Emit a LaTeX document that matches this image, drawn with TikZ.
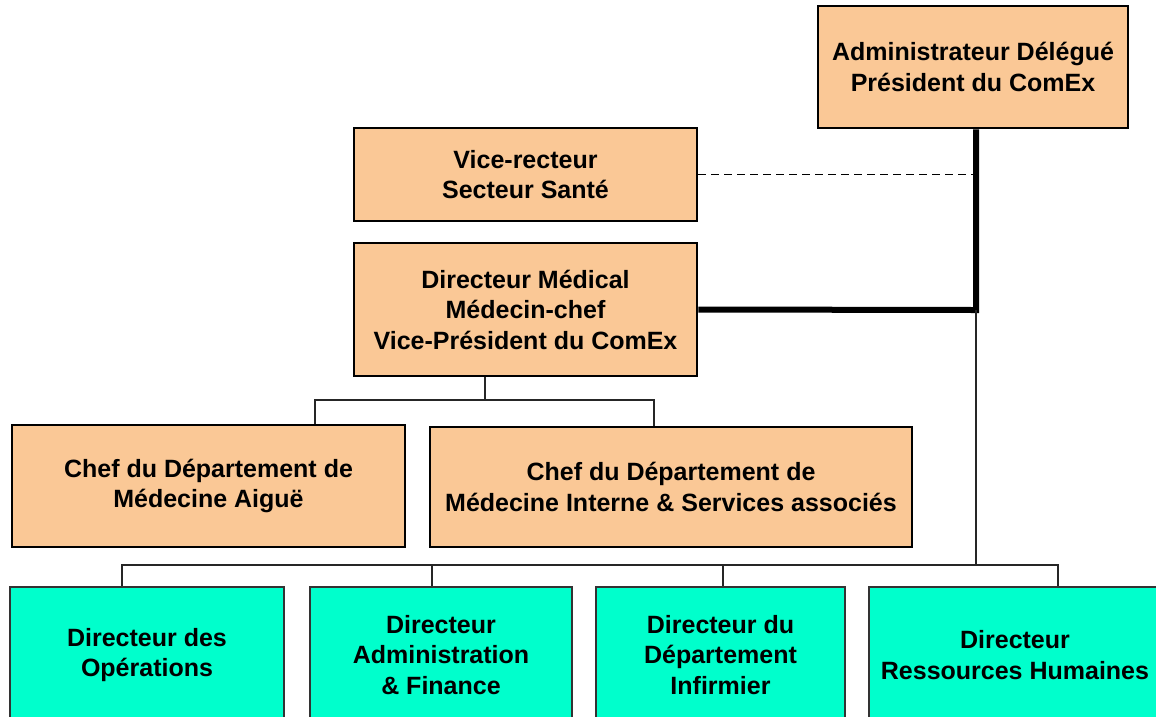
\documentclass[tikz,border=0pt]{standalone}
\usepackage{fontspec}
\setmainfont{Liberation Sans}
\definecolor{peach}{RGB}{250,200,150}
\definecolor{aqua}{RGB}{0,255,204}
\begin{document}
\begin{tikzpicture}[x=1pt,y=-1pt,
  box/.style={draw=black,line width=2.6pt,align=center,inner sep=0pt,
    font=\fontsize{25}{30.5}\selectfont\bfseries},
  orange/.style={box,fill=peach},
  green/.style={box,fill=aqua,draw=black!80,line width=2pt},
  conn/.style={line width=1.5pt,draw=black!85},
  thickline/.style={line width=6pt},
  dashline/.style={line width=1.8pt,dash pattern=on 8pt off 5pt}]
\useasboundingbox (0,0) rectangle (1156,716);
\fill[white] (0,0) rectangle (1156,716);
% nodes
\node[orange,minimum width=310pt,minimum height=122pt] (AD) at (973,67) {Administrateur Délégué\\Président du ComEx};
\node[orange,minimum width=343pt,minimum height=93pt] (VR) at (525.5,174.5) {Vice-recteur\\Secteur Santé};
\node[orange,minimum width=343pt,minimum height=133pt] (DM) at (525.5,309.5) {Directeur Médical\\Médecin-chef\\Vice-Président du ComEx};
\node[orange,minimum width=393pt,minimum height=122pt] (CA) at (208.5,486) {Chef du Département de\\Médecine Aiguë};
\node[orange,minimum width=482pt,minimum height=120pt] (CI) at (671,487) {Chef du Département de\\Médecine Interne \& Services associés};
\node[green,minimum width=274pt,minimum height=136pt] (B1) at (147,655) {Directeur des\\Opérations};
\node[green,minimum width=262pt,minimum height=136pt] (B2) at (441,655) {Directeur\\Administration\\\& Finance};
\node[green,minimum width=249pt,minimum height=136pt] (B3) at (720.5,655) {Directeur du\\Département\\Infirmier};
\node[green,minimum width=292pt,minimum height=136pt] (B4) at (1015,655) {Directeur\\Ressources Humaines};
% junction coordinates
\coordinate (j) at (976,310);
\coordinate (t) at (485,400);
\coordinate (ta) at (315,400);
\coordinate (tc) at (654,400);
\coordinate (b1) at (122,565);
\coordinate (b2) at (432,565);
\coordinate (b3) at (723,565);
\coordinate (b4) at (1058,565);
% connectors
\draw[thickline] (AD.south -| j) -- (j) -- (DM.east);
\draw[dashline] (VR.east) -- (VR.east -| j);
\draw[conn] (j) -- (j |- b4);
\draw[conn] (DM.south -| t) -- (t);
\draw[conn] (CA.north -| ta) -- (ta) -- (tc) -- (CI.north -| tc);
\draw[conn] (B1.north -| b1) -- (b1) -- (b4) -- (B4.north -| b4);
\draw[conn] (b2) -- (B2.north -| b2);
\draw[conn] (b3) -- (B3.north -| b3);
\end{tikzpicture}
\end{document}
